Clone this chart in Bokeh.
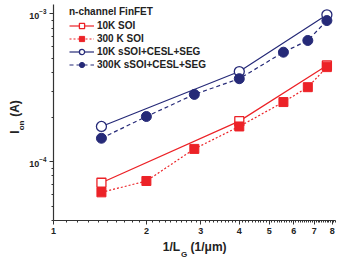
from bokeh.plotting import figure
from bokeh.models import (FixedTicker, LogTickFormatter, PrintfTickFormatter, LogAxis,
                          Legend, LegendItem, Range1d)
from bokeh.embed import file_html
from bokeh.resources import INLINE

# ---- data ----
x_all = [1.43, 2.0, 2.86, 4.0, 5.56, 6.67, 7.69]
x_10k = [1.43, 4.0, 7.69]
soi_10k = [7.2e-5, 1.88e-4, 4.47e-4]
soi_300k = [6.2e-5, 7.4e-5, 1.22e-4, 1.73e-4, 2.53e-4, 3.19e-4, 4.36e-4]
ssoi_10k = [1.73e-4, 4.07e-4, 9.85e-4]
ssoi_300k = [1.44e-4, 2.02e-4, 2.85e-4, 3.64e-4, 5.5e-4, 6.6e-4, 9.0e-4]
series_names = ["10K SOI", "300 K SOI", "10K sSOI+CESL+SEG", "300K sSOI+CESL+SEG"]
legend_title = "n-channel FinFET"
x_major = [1, 2, 3, 4, 5, 6, 7, 8]
y_major = [1e-4, 1e-3]

RED = "#ec2227"
NAVY = "#262a78"
FONT = "Liberation Sans"
TXT = "#222222"

p = figure(frame_width=282, frame_height=216, x_axis_type="log", y_axis_type="log",
           x_range=Range1d(1, 8.2), y_range=Range1d(4e-5, 1.156e-3),
           output_backend="svg", toolbar_location=None,
           min_border_left=53, min_border_right=2, min_border_top=4, min_border_bottom=43)
p.outline_line_color = None
p.xgrid.visible = False
p.ygrid.visible = False

# axes
x_minor = [round(1 + 0.1 * i, 1) for i in range(1, 73) if abs((1 + 0.1 * i) - round(1 + 0.1 * i)) > 1e-6]
p.xaxis.ticker = FixedTicker(ticks=x_major, minor_ticks=x_minor)
p.xaxis.formatter = PrintfTickFormatter(format="%d")
y_minor = [k * 1e-5 for k in range(4, 10)] + [k * 1e-4 for k in range(2, 10)]
p.yaxis.ticker = FixedTicker(ticks=y_major, minor_ticks=y_minor)
p.yaxis.formatter = LogTickFormatter()
for ax in (p.xaxis[0], p.yaxis[0]):
    ax.axis_line_color = "#333333"
    ax.axis_line_width = 1.2
    ax.major_tick_in = 0
    ax.major_tick_out = 4
    ax.minor_tick_in = 0
    ax.minor_tick_out = 2
    ax.major_tick_line_color = "#333333"
    ax.minor_tick_line_color = "#333333"
    ax.major_label_text_font = FONT
    ax.major_label_text_font_style = "bold"
    ax.major_label_text_font_size = "9px"
    ax.major_label_text_color = TXT
p.xaxis.major_label_standoff = 3
p.yaxis.major_label_standoff = 3


def text_axis(ticks, texts, size, standoff, orientation="horizontal"):
    """An axis with no line or ticks, used only to write axis-title text pieces."""
    a = LogAxis(ticker=FixedTicker(ticks=ticks, minor_ticks=[]),
                major_label_overrides=dict(zip(ticks, texts)))
    a.axis_line_color = None
    a.major_tick_line_color = None
    a.minor_tick_line_color = None
    a.major_tick_in = 0
    a.major_tick_out = 0
    a.minor_tick_in = 0
    a.minor_tick_out = 0
    a.major_label_standoff = standoff
    a.major_label_orientation = orientation
    a.major_label_text_font = FONT
    a.major_label_text_font_style = "bold"
    a.major_label_text_font_size = size
    a.major_label_text_color = TXT
    return a


# x title: 1/L_G (1/μm)
p.add_layout(text_axis([2.41, 3.18], ["1/L", "(1/μm)"], "12px", 3), "below")
p.add_layout(text_axis([2.65], ["G"], "8px", -7), "below")
# y title: I_on (A)
p.add_layout(text_axis([1.757e-4], ["on"], "8px", 0, "parallel"), "left")
p.add_layout(text_axis([1.587e-4, 2.29e-4], ["I", "(A)"], "12px", -8, "parallel"), "left")

# series
r1l = p.line(x_10k, soi_10k, line_color=RED, line_width=1.2)
r1m = p.scatter(x_10k, soi_10k, marker="square", size=9, fill_color="white", line_color=RED, line_width=1.3)
r2l = p.line(x_all, soi_300k, line_color=RED, line_width=1.2, line_dash="2 2")
r2m = p.scatter(x_all, soi_300k, marker="square", size=9, fill_color=RED, line_color=RED)
r3l = p.line(x_10k, ssoi_10k, line_color=NAVY, line_width=1.2)
r3m = p.scatter(x_10k, ssoi_10k, marker="circle", size=10, fill_color="white", line_color=NAVY, line_width=1.3)
r4l = p.line(x_all, ssoi_300k, line_color=NAVY, line_width=1.2, line_dash="4 3")
r4m = p.scatter(x_all, ssoi_300k, marker="circle", size=10, fill_color=NAVY, line_color=NAVY)

legend = Legend(items=[
    LegendItem(label=series_names[0], renderers=[r1l, r1m]),
    LegendItem(label=series_names[1], renderers=[r2l, r2m]),
    LegendItem(label=series_names[2], renderers=[r3l, r3m]),
    LegendItem(label=series_names[3], renderers=[r4l, r4m]),
], location=(16, 149), title=legend_title)
legend.border_line_color = None
legend.background_fill_alpha = 0
legend.margin = 0
legend.padding = 0
legend.spacing = 0
legend.glyph_width = 25
legend.glyph_height = 13
legend.label_height = 13
legend.label_standoff = 3
legend.label_text_font = FONT
legend.label_text_font_style = "bold"
legend.label_text_font_size = "10px"
legend.label_text_color = TXT
legend.title_text_font = FONT
legend.title_text_font_style = "bold"
legend.title_text_font_size = "10px"
legend.title_text_color = TXT
legend.title_standoff = 2
p.add_layout(legend)

open("out.html", "w").write(file_html(p, INLINE))
